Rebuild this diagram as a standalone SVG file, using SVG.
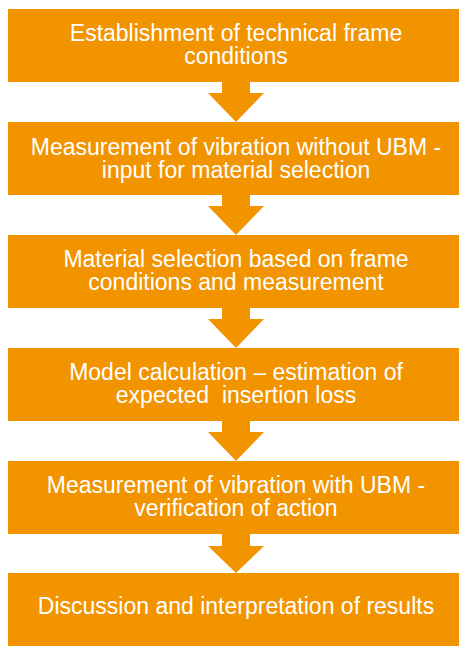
<svg xmlns="http://www.w3.org/2000/svg" width="459" height="646" viewBox="0 0 459 646">
<style>
.box{fill:#F29400}
.arr{fill:#F29400}
text{font-family:"Liberation Sans",Arial,sans-serif;font-size:23px;fill:#FFFFFF;text-anchor:middle;white-space:pre}
</style>
<rect width="459" height="646" fill="#FFFFFF"/>
<g id="connectors">
<polygon class="arr" points="222,82 250,82 250,93 264,93 236,122 208,93 222,93"/>
<polygon class="arr" points="222,195 250,195 250,206 264,206 236,235 208,206 222,206"/>
<polygon class="arr" points="222,308 250,308 250,319 264,319 236,348 208,319 222,319"/>
<polygon class="arr" points="222,421 250,421 250,432 264,432 236,461 208,432 222,432"/>
<polygon class="arr" points="222,534 250,534 250,546 264,546 236,573 208,546 222,546"/>
</g>
<g id="n1"><rect class="box" x="8" y="9" width="460" height="73"/>
<text x="236" y="41">Establishment of technical frame</text><text x="236" y="64">conditions</text></g>
<g id="n2"><rect class="box" x="8" y="122" width="460" height="73"/>
<text x="236" y="155">Measurement of vibration without UBM -</text><text x="236" y="178">input for material selection</text></g>
<g id="n3"><rect class="box" x="8" y="235" width="460" height="73"/>
<text x="236" y="267">Material selection based on frame</text><text x="236" y="290">conditions and measurement</text></g>
<g id="n4"><rect class="box" x="8" y="348" width="460" height="73"/>
<text x="236" y="380">Model calculation – estimation of</text><text x="236" y="403" xml:space="preserve">expected  insertion loss</text></g>
<g id="n5"><rect class="box" x="8" y="461" width="460" height="73"/>
<text x="236" y="493">Measurement of vibration with UBM -</text><text x="236" y="516">verification of action</text></g>
<g id="n6"><rect class="box" x="8" y="573" width="460" height="73"/>
<text x="236" y="614">Discussion and interpretation of results</text></g>
</svg>
